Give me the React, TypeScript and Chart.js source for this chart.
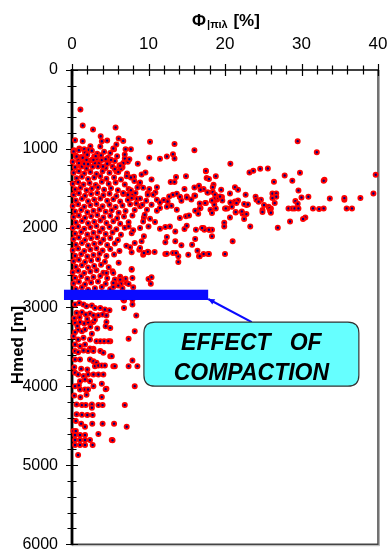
import { useEffect, useRef } from 'react';
import { Chart, registerables } from 'chart.js';
Chart.register(...registerables);

// ---- Tick labels ----
const porosityTicks = [0, 10, 20, 30, 40];
const depthTicks = [0, 1000, 2000, 3000, 4000, 5000, 6000];

// ---- Data: [porosity %, depth m] ----
const shallowPoints: number[][] = [
  [1.1, 501], [1.4, 703], [2.75, 754], [5.7, 728], [3.75, 838], [0.4, 888], [1.4, 901], [4.6, 893],
  [6.1, 868], [6.7, 897], [10.2, 909], [13.4, 935], [29.5, 900], [2.4, 964], [3.7, 968], [3.9, 901],
  [5.5, 1002], [7.0, 1002], [7.7, 1002], [1.6, 1002], [2.2, 1010], [0.95, 994], [16.0, 1014], [32.0, 1040],
  [5.8, 943], [5.4, 994], [0.26, 1014],
];

const denseUpperPoints: number[][] = [
  [0.2, 1030], [0.9, 1015], [1.7, 1045], [2.6, 1022], [3.3, 1060], [4.2, 1035], [5.0, 1050],
  [0.5, 1085], [1.2, 1100], [2.0, 1072], [2.9, 1095], [3.8, 1080], [4.7, 1110], [5.9, 1090],
  [0.1, 1160], [0.8, 1145], [1.5, 1170], [2.3, 1150], [3.0, 1180], [3.9, 1140], [4.8, 1165], [5.6, 1150],
  [0.4, 1230], [1.1, 1210], [1.9, 1245], [2.7, 1225], [3.5, 1205], [4.4, 1240], [5.3, 1220], [6.6, 1230],
  [0.2, 1300], [0.9, 1280], [1.6, 1310], [2.4, 1290], [3.2, 1315], [4.0, 1280], [4.9, 1300], [5.8, 1285], [7.2, 1310],
  [0.6, 1370], [1.3, 1350], [2.1, 1380], [2.9, 1360], [3.7, 1345], [4.5, 1375], [5.5, 1360], [6.4, 1385], [8.1, 1350],
  [0.1, 1440], [0.8, 1420], [1.5, 1450], [2.3, 1430], [3.1, 1455], [3.9, 1415], [4.8, 1440], [5.7, 1425], [6.9, 1450], [8.8, 1435],
  [0.4, 1510], [1.1, 1490], [1.9, 1520], [2.6, 1500], [3.4, 1485], [4.2, 1515], [5.1, 1495], [6.0, 1520], [7.4, 1505], [9.3, 1490],
  [0.2, 1580], [0.9, 1560], [1.7, 1590], [2.5, 1570], [3.3, 1555], [4.1, 1585], [4.9, 1565], [5.8, 1595], [6.7, 1570], [7.9, 1585], [9.9, 1560],
  [0.5, 1650], [1.3, 1630], [2.1, 1660], [2.9, 1640], [3.7, 1625], [4.6, 1655], [5.4, 1635], [6.3, 1665], [7.3, 1645], [8.5, 1630],
  [0.1, 1720], [0.8, 1700], [1.6, 1730], [2.4, 1710], [3.2, 1695], [4.0, 1725], [4.9, 1705], [5.7, 1735], [6.6, 1715], [7.6, 1700], [8.9, 1725],
  [0.4, 1790], [1.2, 1770], [2.0, 1800], [2.8, 1780], [3.6, 1765], [4.4, 1795], [5.2, 1775], [6.1, 1805], [7.0, 1785], [8.2, 1770],
  [0.2, 1860], [0.9, 1840], [1.7, 1870], [2.5, 1850], [3.3, 1835], [4.1, 1865], [5.0, 1845], [5.9, 1875], [6.8, 1855], [7.9, 1840], [9.4, 1865],
  [0.5, 1930], [1.3, 1910], [2.1, 1940], [2.9, 1920], [3.7, 1905], [4.5, 1935], [5.4, 1915], [6.3, 1945], [7.4, 1925],
  [0.1, 2000], [0.8, 1980], [1.6, 2010], [2.4, 1990], [3.2, 1975], [4.0, 2005], [4.9, 1985], [5.8, 2015], [6.9, 1995],
  [0.6, 1095], [0.9, 1178], [1.3, 1221], [1.6, 1187], [2.1, 1191], [2.6, 1137], [3.2, 1124], [3.5, 1183], [3.4, 1221],
  [4.05, 1221], [4.4, 1128], [4.6, 1187], [5.1, 1137], [3.1, 1090], [2.8, 1137], [1.4, 1111], [1.9, 1137],
];

const denseLowerPoints: number[][] = [
  [0.4, 2070], [1.2, 2050], [2.0, 2080], [2.8, 2060], [3.6, 2045], [4.4, 2075], [5.3, 2055], [6.4, 2085], [7.8, 2065],
  [0.2, 2140], [0.9, 2120], [1.7, 2150], [2.5, 2130], [3.3, 2115], [4.1, 2145], [5.0, 2125], [6.0, 2150],
  [0.5, 2210], [1.3, 2190], [2.1, 2220], [2.9, 2200], [3.7, 2185], [4.6, 2215], [5.6, 2195], [7.1, 2225],
  [0.1, 2280], [0.8, 2260], [1.6, 2290], [2.4, 2270], [3.2, 2255], [4.0, 2285], [5.0, 2265], [6.2, 2290],
  [0.4, 2350], [1.2, 2330], [2.0, 2360], [2.8, 2340], [3.6, 2325], [4.5, 2355], [5.5, 2335],
  [0.2, 2420], [0.9, 2400], [1.7, 2430], [2.5, 2410], [3.4, 2395], [4.3, 2425], [6.1, 2440],
  [0.5, 2490], [1.3, 2470], [2.1, 2500], [2.9, 2480], [3.8, 2465], [4.8, 2495],
  [0.1, 2560], [0.8, 2540], [1.6, 2570], [2.4, 2550], [3.2, 2535], [4.1, 2565], [5.3, 2545],
  [0.4, 2630], [1.2, 2610], [2.0, 2640], [2.8, 2620], [3.7, 2605], [4.6, 2635], [6.3, 2615], [7.0, 2640],
  [0.2, 2700], [0.9, 2680], [1.7, 2710], [2.5, 2690], [3.4, 2675], [4.4, 2705], [5.6, 2685],
  [0.5, 2770], [1.3, 2750], [2.1, 2780], [3.0, 2760], [3.9, 2745], [5.0, 2775], [6.6, 2760], [8.0, 2750],
  [4.5, 2568], [5.4, 2568], [5.6, 2652], [5.4, 2694], [6.5, 2652], [7.15, 2694], [7.8, 2526],
  [6.3, 2652], [6.4, 2703], [7.4, 2707], [5.4, 2745], [6.05, 2728],
];

const spreadPoints: number[][] = [
  [10.1, 1111], [11.5, 1124], [12.4, 1095], [13.2, 1065], [13.4, 1120], [8.6, 1187], [6.9, 1120], [7.3, 1162],
  [6.2, 1208], [6.4, 1250], [6.9, 1069], [7.5, 1128], [6.7, 1178], [6.3, 1204],
  [9.6, 1297], [9.1, 1322], [10.4, 1385], [10.1, 1507], [11.1, 1482], [10.9, 1549], [13.6, 1355], [12.9, 1418],
  [13.4, 1418], [14.9, 1343], [16.0, 1486], [16.6, 1465], [17.5, 1280], [17.6, 1368], [18.8, 1343], [18.5, 1452],
  [17.2, 1507], [17.8, 1549], [18.4, 1545], [18.7, 1579], [14.7, 1507], [15.0, 1600], [14.1, 1608], [16.0, 1587],
  [6.3, 1212], [5.6, 1254], [6.05, 1292], [7.15, 1343], [7.7, 1360], [8.15, 1406], [8.9, 1423], [8.55, 1486],
  [7.7, 1520], [8.3, 1557], [7.3, 1579], [6.7, 1557], [7.8, 1621], [8.9, 1625], [9.7, 1655], [9.2, 1705],
  [8.4, 1688], [11.1, 1642], [11.5, 1676], [12.0, 1646], [12.5, 1663], [12.7, 1600], [13.2, 1579], [13.7, 1566],
  [14.1, 1604], [14.3, 1655], [15.0, 1613], [15.6, 1638], [16.1, 1591], [16.7, 1688], [17.5, 1684], [18.3, 1655],
  [18.6, 1705], [11.1, 1781], [11.5, 1747], [12.4, 1730], [13.0, 1718], [13.7, 1768], [14.1, 1873], [14.9, 1852],
  [15.3, 1840], [16.1, 1781], [16.5, 1819], [16.8, 1747], [11.5, 2008], [12.2, 1987], [12.8, 1979], [13.5, 2042],
  [14.7, 2012], [15.0, 1970], [16.2, 2021], [17.2, 2000], [18.0, 2021], [12.4, 2113], [13.5, 2168], [14.3, 2219],
  [15.7, 2210], [16.1, 2139], [16.4, 2286], [16.6, 2358], [13.9, 2358], [13.2, 2315], [12.2, 2328], [15.2, 2337],
  [17.2, 2328], [17.8, 2328], [10.0, 2307], [9.3, 2337], [8.8, 2273], [7.8, 2307], [7.6, 2244], [8.2, 2189],
  [9.1, 2168], [9.4, 2105], [7.8, 2517], [7.9, 2631], [10.0, 2644], [10.4, 2623], [10.3, 2703], [9.5, 1831],
  [10.2, 1882], [9.3, 1916], [10.85, 1924], [10.0, 1979], [8.9, 2000], [8.0, 2029], [7.4, 1979], [9.8, 1768],
  [10.4, 1705], [10.6, 1579], [9.9, 1579], [13.9, 2429], [13.6, 2315], [12.4, 2324], [12.2, 2181], [10.8, 2303],
  [9.9, 2299], [9.4, 2315], [8.9, 2252],
];

const farPoints: number[][] = [
  [20.7, 1187], [17.5, 1276], [23.2, 1297], [23.7, 1276], [24.6, 1250], [25.6, 1246], [27.8, 1335], [29.8, 1301],
  [39.7, 1326], [26.4, 1415], [28.8, 1402], [33.0, 1389], [32.9, 1402], [17.9, 1380], [18.4, 1482], [21.3, 1482],
  [21.7, 1516], [16.8, 1516], [17.7, 1550], [19.5, 1516], [20.65, 1562], [22.7, 1579], [29.6, 1524], [26.2, 1562],
  [26.7, 1562], [26.7, 1604], [26.2, 1621], [30.0, 1613], [30.9, 1604], [33.7, 1625], [35.6, 1642], [35.6, 1621],
  [37.7, 1621], [39.4, 1562], [24.0, 1604], [24.1, 1642], [24.7, 1642], [24.4, 1667], [25.1, 1709], [25.7, 1730],
  [26.0, 1751], [26.5, 1684], [25.8, 1751], [24.9, 1772], [24.9, 1797], [25.9, 1785], [26.0, 1806], [28.3, 1751],
  [28.8, 1751], [29.1, 1751], [29.6, 1751], [29.2, 1659], [29.5, 1692], [31.5, 1751], [32.3, 1759], [32.9, 1751],
  [35.9, 1751], [36.6, 1751], [30.5, 1865], [30.2, 1886], [28.5, 1916], [26.9, 1995], [23.3, 1979], [20.65, 1865],
  [22.5, 1886], [22.3, 1819], [22.8, 1823], [22.2, 1789], [22.8, 1709], [22.5, 1696], [23.0, 1701], [21.4, 1802],
  [20.0, 1751], [20.3, 1751], [20.9, 1730], [20.7, 1675], [21.3, 1663], [21.7, 1650], [19.9, 1932], [19.9, 1979],
  [18.3, 2021], [17.3, 2021], [17.9, 2021], [18.3, 2105], [21.0, 2168], [17.9, 2328], [20.0, 2328], [18.1, 1768],
  [18.3, 1810], [18.8, 1751], [18.9, 1642], [18.7, 1625], [18.3, 1650], [19.1, 1621], [19.6, 1608], [19.35, 1600],
  [19.65, 1650], [16.7, 1751], [17.4, 1684], [17.0, 2000], [16.7, 2357], [21.5, 1684], [20.1, 1751], [21.4, 1797],
];

const deepPoints: number[][] = [
  [0.4, 2968], [0.95, 2947], [1.5, 2968], [1.9, 2989], [2.6, 2981], [3.0, 3010], [3.7, 3010], [4.3, 3031], [4.9, 3040],
  [0.6, 3073], [1.3, 3065], [1.8, 3094], [2.35, 3082], [2.8, 3103], [3.45, 3103], [4.0, 3094], [4.5, 3107],
  [0.4, 3199], [1.05, 3191], [1.6, 3208], [2.1, 3191], [2.8, 3187], [4.5, 3187], [5.0, 3263], [4.4, 3242],
  [0.8, 3284], [0.4, 3318], [1.3, 3305], [1.7, 3284], [2.6, 3338], [0.2, 3368], [0.8, 3410], [1.5, 3389],
  [2.35, 3410], [3.2, 3431], [3.7, 3431], [4.2, 3431], [5.0, 3431], [0.4, 3473], [1.05, 3494], [1.7, 3473],
  [2.35, 3524], [2.8, 3528], [0.4, 3557], [0.8, 3570], [1.5, 3549], [2.1, 3557], [2.8, 3557], [3.7, 3557],
  [4.1, 3578], [5.0, 3621], [5.2, 3621], [0.4, 3663], [1.05, 3663], [2.35, 3663], [2.8, 3684], [3.2, 3705],
  [3.0, 3747], [3.45, 3738], [3.9, 3738], [4.3, 3738], [5.4, 3747], [0.4, 3831], [0.8, 3852], [1.5, 3873],
  [2.1, 3852], [2.8, 3852], [3.45, 3852], [4.1, 3852], [1.05, 3937], [1.7, 3915], [2.35, 3937], [0.4, 4000],
  [1.05, 4042], [1.7, 4042], [2.1, 4042], [2.8, 4000], [3.9, 3970], [4.5, 4033], [3.9, 4139], [0.6, 4231],
  [1.3, 4240], [1.8, 4240], [2.6, 4231], [3.45, 4240], [4.0, 4240], [6.9, 4240], [2.6, 4273], [0.6, 4357],
  [1.3, 4362], [2.0, 4366], [2.7, 4366], [1.2, 4475], [1.7, 4513], [2.65, 4475], [4.0, 4475], [5.5, 4475],
  [7.15, 4513], [0.2, 4568], [0.5, 4568], [0.4, 4619], [1.05, 4619], [1.7, 4619], [3.45, 4606], [0.4, 4682],
  [1.05, 4682], [1.7, 4682], [2.35, 4682], [5.2, 4682], [0.4, 4745], [1.05, 4745], [1.7, 4745], [2.7, 4745],
  [0.8, 4871], [8.2, 4000], [4.4, 4038], [5.3, 4686],
  [6.8, 2918], [7.9, 2905], [8.4, 3107], [8.2, 3305], [7.4, 3402], [7.9, 3675], [7.4, 3747], [8.55, 3747],
  [6.8, 3010], [6.7, 2905], [7.9, 2968], [4.75, 3431], [5.6, 3747],
  [0.3, 3140], [1.0, 3130], [2.0, 3150], [3.0, 3160], [0.7, 3240], [2.4, 3250], [3.3, 3270], [0.3, 3760],
  [1.2, 3780], [2.0, 3790], [0.9, 3990], [0.3, 4120], [1.1, 4140], [1.9, 4110], [0.5, 4440],
];

// ---- Annotation values ----
const barDepthRange = [2780, 2910];
const barPorosityRange = [-1.05, 17.8];
const boxPorosityRange = [9.4, 37.5];
const boxDepthRange = [3190, 4000];
const pointerFrom = [23.5, 3190];
const pointerTo = [17.8, 2897];
const calloutLines = ['EFFECT   OF', 'COMPACTION'];

const FONT = "'Liberation Sans', Arial, sans-serif";

const allPoints = [
  ...shallowPoints, ...denseUpperPoints, ...denseLowerPoints,
  ...spreadPoints, ...farPoints, ...deepPoints,
].map(([x, y]) => ({ x, y }));

function roundRect(ctx: CanvasRenderingContext2D, x: number, y: number, w: number, h: number, r: number) {
  ctx.beginPath();
  ctx.moveTo(x + r, y);
  ctx.lineTo(x + w - r, y);
  ctx.quadraticCurveTo(x + w, y, x + w, y + r);
  ctx.lineTo(x + w, y + h - r);
  ctx.quadraticCurveTo(x + w, y + h, x + w - r, y + h);
  ctx.lineTo(x + r, y + h);
  ctx.quadraticCurveTo(x, y + h, x, y + h - r);
  ctx.lineTo(x, y + r);
  ctx.quadraticCurveTo(x, y, x + r, y);
  ctx.closePath();
}

const decorPlugin = {
  id: 'decor',
  beforeDatasetsDraw(chart: any) {
    const { ctx, chartArea: a, scales } = chart;
    const xs = scales.x, ys = scales.y;
    ctx.save();
    // right & bottom frame
    ctx.strokeStyle = '#b0b0b0';
    ctx.lineWidth = 1;
    ctx.beginPath();
    ctx.moveTo(a.right + 1.5, a.top);
    ctx.lineTo(a.right + 1.5, a.bottom + 1.5);
    ctx.lineTo(a.left, a.bottom + 1.5);
    ctx.stroke();
    ctx.strokeStyle = '#444';
    ctx.lineWidth = 1.5;
    ctx.beginPath();
    ctx.moveTo(a.right, a.top);
    ctx.lineTo(a.right, a.bottom);
    ctx.lineTo(a.left, a.bottom);
    ctx.stroke();
    // axes lines
    ctx.strokeStyle = '#000';
    ctx.lineWidth = 1.5;
    ctx.beginPath();
    ctx.moveTo(a.left, a.top);
    ctx.lineTo(a.right, a.top);
    ctx.stroke();
    ctx.lineWidth = 2.8;
    ctx.beginPath();
    ctx.moveTo(a.left, a.top - 1);
    ctx.lineTo(a.left, a.bottom + 1);
    ctx.stroke();
    // tick marks crossing axes
    ctx.lineWidth = 1.2;
    ctx.beginPath();
    xs.ticks.forEach((t: any) => {
      const px = Math.round(xs.getPixelForValue(t.value)) + 0.5;
      const major = porosityTicks.includes(t.value);
      ctx.moveTo(px, a.top - (major ? 6 : 4.5));
      ctx.lineTo(px, a.top + (major ? 6 : 4.5));
    });
    ys.ticks.forEach((t: any) => {
      const py = Math.round(ys.getPixelForValue(t.value)) + 0.5;
      const major = depthTicks.includes(t.value);
      ctx.moveTo(a.left - (major ? 6 : 4.5), py);
      ctx.lineTo(a.left + (major ? 6 : 4.5), py);
    });
    ctx.stroke();
    ctx.restore();
  },
  afterDatasetsDraw(chart: any) {
    const { ctx, chartArea: a, scales } = chart;
    const xs = scales.x, ys = scales.y;
    ctx.save();
    // compaction bar
    const bx0 = xs.getPixelForValue(barPorosityRange[0]);
    const bx1 = xs.getPixelForValue(barPorosityRange[1]);
    const by0 = ys.getPixelForValue(barDepthRange[0]);
    const by1 = ys.getPixelForValue(barDepthRange[1]);
    ctx.fillStyle = '#0a0aff';
    ctx.fillRect(bx0, by0, bx1 - bx0, by1 - by0);
    // pointer line
    const p0x = xs.getPixelForValue(pointerFrom[0]);
    const p0y = ys.getPixelForValue(pointerFrom[1]);
    const p1x = xs.getPixelForValue(pointerTo[0]);
    const p1y = ys.getPixelForValue(pointerTo[1]);
    ctx.strokeStyle = '#0a0aff';
    ctx.lineWidth = 2.2;
    ctx.beginPath();
    ctx.moveTo(p0x, p0y);
    ctx.lineTo(p1x, p1y);
    ctx.stroke();
    const ang = Math.atan2(p1y - p0y, p1x - p0x);
    ctx.fillStyle = '#0a0aff';
    ctx.beginPath();
    ctx.moveTo(p1x, p1y);
    ctx.lineTo(p1x - 7 * Math.cos(ang - 0.45), p1y - 7 * Math.sin(ang - 0.45));
    ctx.lineTo(p1x - 7 * Math.cos(ang + 0.45), p1y - 7 * Math.sin(ang + 0.45));
    ctx.closePath();
    ctx.fill();
    // callout box
    const cx0 = xs.getPixelForValue(boxPorosityRange[0]);
    const cx1 = xs.getPixelForValue(boxPorosityRange[1]);
    const cy0 = ys.getPixelForValue(boxDepthRange[0]);
    const cy1 = ys.getPixelForValue(boxDepthRange[1]);
    roundRect(ctx, cx0, cy0, cx1 - cx0, cy1 - cy0, 11);
    ctx.fillStyle = '#66ffff';
    ctx.fill();
    ctx.strokeStyle = '#333';
    ctx.lineWidth = 1.2;
    ctx.stroke();
    ctx.fillStyle = '#000';
    ctx.font = `italic bold 23px ${FONT}`;
    ctx.textAlign = 'center';
    ctx.textBaseline = 'alphabetic';
    const cmid = (cx0 + cx1) / 2;
    ctx.fillText(calloutLines[0], cmid, cy0 + 28);
    ctx.fillText(calloutLines[1], cmid, cy0 + 58);

    // x title: Φ|πιλ [%]
    const big = `bold 17px ${FONT}`;
    const small = `bold 11px ${FONT}`;
    ctx.textAlign = 'left';
    ctx.font = big;
    const w1 = ctx.measureText('Φ').width;
    const w3 = ctx.measureText(' [%]').width;
    ctx.font = small;
    const w2 = ctx.measureText('|πιλ').width;
    const total = w1 + 1 + w2 + 1 + w3;
    let tx = (a.left + a.right) / 2 - total / 2 + 1;
    const base = 26;
    ctx.font = big;
    ctx.fillText('Φ', tx, base);
    tx += w1 + 1;
    ctx.font = small;
    ctx.fillText('|πιλ', tx, base + 2);
    tx += w2 + 1;
    ctx.font = big;
    ctx.fillText(' [%]', tx, base);

    // y title
    ctx.save();
    ctx.translate(23, a.top + (a.bottom - a.top) * 0.58);
    ctx.rotate(-Math.PI / 2);
    ctx.textAlign = 'center';
    ctx.font = `bold 17px ${FONT}`;
    ctx.fillText('Hmed [m]', 0, 0);
    ctx.restore();
    ctx.restore();
  },
};

export default function App() {
  const ref = useRef<HTMLCanvasElement>(null);
  useEffect(() => {
    if (!ref.current) return;
    const chart = new Chart(ref.current, {
      type: 'scatter',
      data: {
        datasets: [
          {
            data: allPoints,
            pointRadius: 2.1,
            pointBorderWidth: 1.8,
            pointBackgroundColor: '#000080',
            pointBorderColor: '#ff0000',
            clip: false as any,
          },
        ],
      },
      options: {
        responsive: false,
        animation: false,
        events: [],
        layout: { padding: { left: 0, top: 0, right: 10, bottom: 5 } },
        plugins: { legend: { display: false }, tooltip: { enabled: false }, title: { display: false } },
        scales: {
          x: {
            type: 'linear',
            position: 'top',
            min: 0,
            max: 40,
            afterFit: (s: any) => { s.height = 70; s.paddingLeft = 0; s.paddingRight = 0; },
            grid: { display: false, drawTicks: false },
            border: { display: false },
            ticks: {
              stepSize: 2,
              autoSkip: false,
              maxRotation: 0,
              padding: 15,
              color: '#000',
              font: { family: FONT, size: 17 },
              callback: (v: any) => (porosityTicks.includes(Number(v)) ? String(v) : ''),
            },
          },
          y: {
            type: 'linear',
            position: 'left',
            reverse: true,
            min: 0,
            max: 6000,
            afterFit: (s: any) => { s.width = 72; s.paddingTop = 0; s.paddingBottom = 0; },
            grid: { display: false, drawTicks: false },
            border: { display: false },
            ticks: {
              stepSize: 200,
              autoSkip: false,
              padding: 14,
              color: '#000',
              font: { family: FONT, size: 16 },
              callback: (v: any) => (depthTicks.includes(Number(v)) ? String(v) : ''),
            },
          },
        },
      },
      plugins: [decorPlugin],
    });
    return () => chart.destroy();
  }, []);
  return (
    <div style={{ position: 'absolute', left: 0, top: 0, width: 388, height: 550, background: '#fff' }}>
      <canvas ref={ref} width={388} height={550} style={{ display: 'block' }} />
    </div>
  );
}
